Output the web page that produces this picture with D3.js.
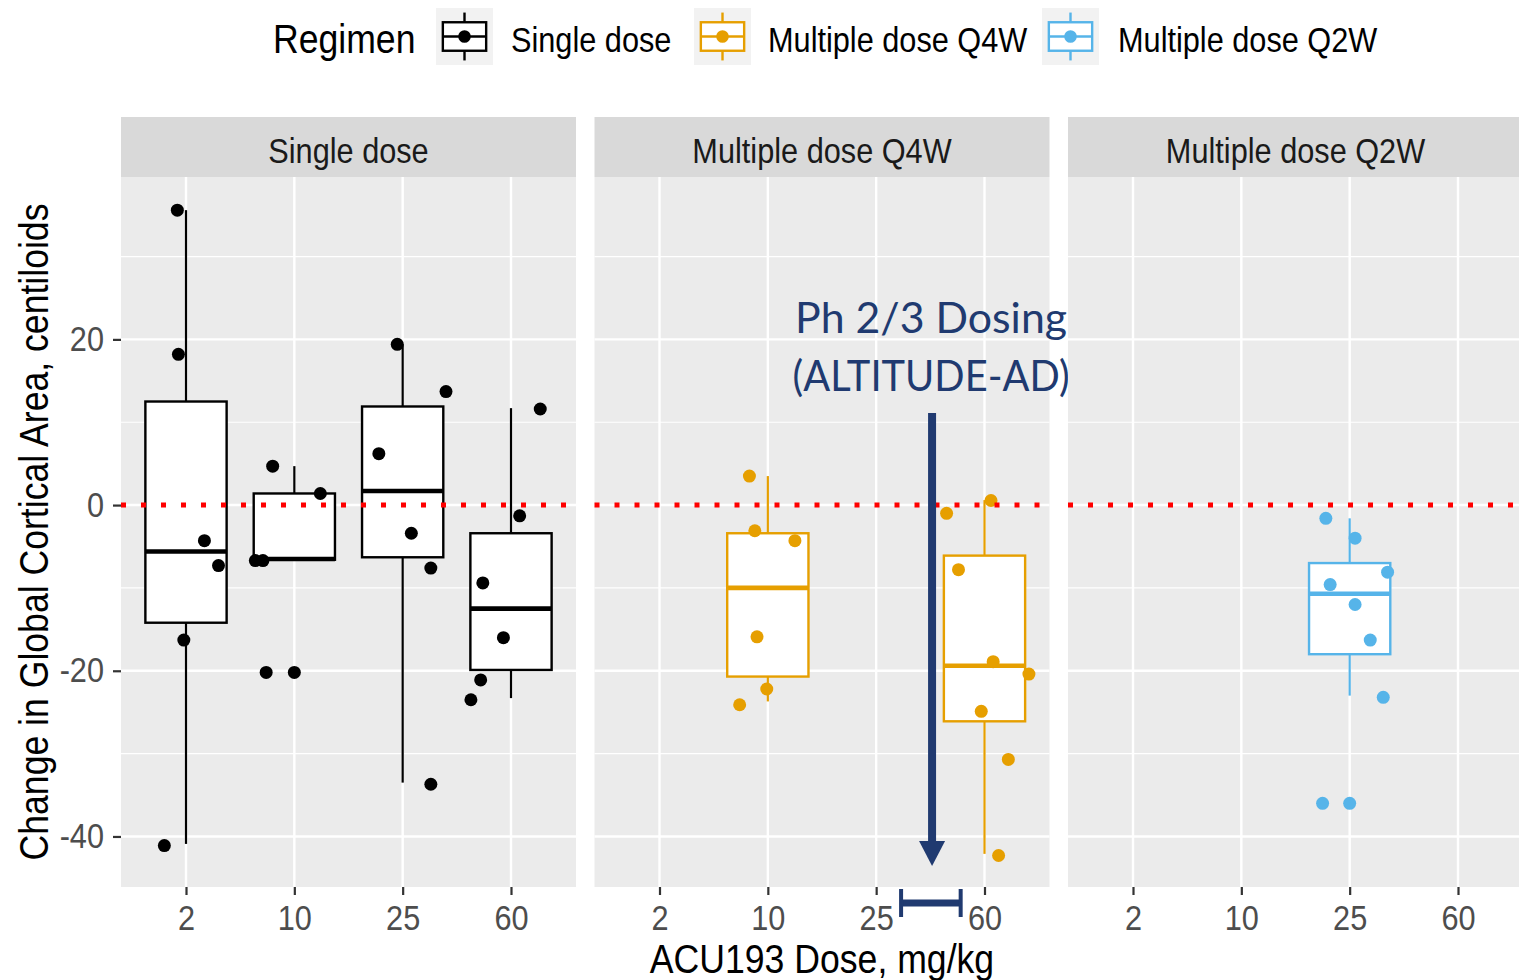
<!DOCTYPE html>
<html>
<head>
<meta charset="utf-8">
<script src="https://cdn.jsdelivr.net/npm/d3@7"></script>
<style>
  html, body { margin: 0; padding: 0; background: #ffffff; }
  svg { display: block; }
  /* narrow, tall lettering used throughout the figure */
  text.narrow { transform-box: fill-box; transform: scale(0.89, 1); }
  text.narrow.a-start { transform-origin: left center; }
  text.narrow.a-middle { transform-origin: center center; }
  text.narrow.a-end { transform-origin: right center; }
</style>
</head>
<body>
<svg id="chart" width="1519" height="980"></svg>
<script>
// Regimens (facets), colours and dose categories
const regimens = ["Single dose", "Multiple dose Q4W", "Multiple dose Q2W"];
const regimenColors = ["#000000", "#E69F00", "#56B4E9"];
const doseLabels = ["2", "10", "25", "60"];
const yTicks = [-40, -20, 0, 20];
const yMinorTicks = [-30, -10, 10, 30];

// Box statistics: [dose, lower whisker, Q1, median, Q3, upper whisker]
const singleDoseBoxes = [
  ["2", -40.9, -14.2, -5.6, 12.5, 35.6],
  ["10", -6.6, -6.6, -6.5, 1.4, 4.7],
  ["25", -33.5, -6.3, 1.7, 11.9, 19.4],
  ["60", -23.3, -19.9, -12.5, -3.4, 11.7]
];
const q4wBoxes = [
  ["10", -23.7, -20.7, -10.0, -3.4, 3.5],
  ["60", -42.1, -26.1, -19.4, -6.1, 0.6]
];
const q2wBoxes = [
  ["25", -23.0, -18.0, -10.7, -7.0, -1.6]
];

// Individual subjects: [dose, change in centiloids, horizontal jitter (fraction of a category step)]
const singleDosePoints = [
  ["2", 35.6, -0.08], ["2", 18.2, -0.07], ["2", -4.3, 0.17], ["2", -7.3, 0.30], ["2", -16.3, -0.02], ["2", -41.1, -0.20],
  ["10", 4.7, -0.20], ["10", 1.4, 0.24], ["10", -6.7, -0.36], ["10", -6.7, -0.29], ["10", -20.2, -0.26], ["10", -20.2, 0.0],
  ["25", 19.4, -0.05], ["25", 13.7, 0.40], ["25", 6.2, -0.22], ["25", -3.4, 0.08], ["25", -7.6, 0.26], ["25", -33.7, 0.26],
  ["60", 11.6, 0.27], ["60", -1.3, 0.08], ["60", -9.4, -0.26], ["60", -16.0, -0.07], ["60", -21.1, -0.28], ["60", -23.5, -0.37]
];
const q4wPoints = [
  ["10", 3.5, -0.17], ["10", -3.1, -0.12], ["10", -4.3, 0.25], ["10", -15.9, -0.10], ["10", -22.2, -0.01], ["10", -24.1, -0.26],
  ["60", 0.55, 0.06], ["60", -1.0, -0.35], ["60", -7.8, -0.24], ["60", -18.9, 0.08], ["60", -20.4, 0.41],
  ["60", -24.9, -0.03], ["60", -30.7, 0.22], ["60", -42.3, 0.13]
];
const q2wPoints = [
  ["25", -1.6, -0.22], ["25", -4.0, 0.05], ["25", -8.1, 0.35], ["25", -9.6, -0.18], ["25", -12.0, 0.05],
  ["25", -16.3, 0.19], ["25", -23.2, 0.31], ["25", -36.0, -0.25], ["25", -36.0, 0.0]
];

const boxesByPanel = [singleDoseBoxes, q4wBoxes, q2wBoxes];
const pointsByPanel = [singleDosePoints, q4wPoints, q2wPoints];

// Annotation text for the Phase 2/3 dose range
const annotationLines = ["Ph 2/3 Dosing", "(ALTITUDE-AD)"];

// ---- layout ----
const svg = d3.select("#chart");
const panelLeft = 121, panelWidth = 455, panelGap = 18.5;
const stripTop = 117, stripHeight = 60;
const plotTop = stripTop + stripHeight, plotBottom = 887;
const textFont = "'Liberation Sans', Arial, sans-serif";
const smallSize = 34.5, titleSize = 40;

const y = d3.scaleLinear().domain([-46.1, 39.6]).range([plotBottom, plotTop]);
const x = d3.scalePoint().domain(doseLabels).range([0, panelWidth]).padding(0.6);
const step = x.step();

regimens.forEach((name, i) => {
  const x0 = panelLeft + i * (panelWidth + panelGap);
  const color = regimenColors[i];
  const g = svg.append("g").attr("transform", `translate(${x0},0)`);

  // strip
  g.append("rect").attr("x", 0).attr("y", stripTop).attr("width", panelWidth).attr("height", stripHeight)
    .attr("fill", "#D9D9D9");
  g.append("text").attr("class", "narrow a-middle").attr("x", panelWidth / 2).attr("y", stripTop + 46)
    .attr("text-anchor", "middle").attr("font-family", textFont).attr("font-size", smallSize)
    .attr("fill", "#1A1A1A").text(name);

  // panel background + grid
  g.append("rect").attr("x", 0).attr("y", plotTop).attr("width", panelWidth).attr("height", plotBottom - plotTop)
    .attr("fill", "#EBEBEB");
  g.selectAll(".gminor").data(yMinorTicks).join("line")
    .attr("x1", 0).attr("x2", panelWidth).attr("y1", d => y(d)).attr("y2", d => y(d))
    .attr("stroke", "#fff").attr("stroke-width", 1.2);
  g.selectAll(".gmajor").data(yTicks).join("line")
    .attr("x1", 0).attr("x2", panelWidth).attr("y1", d => y(d)).attr("y2", d => y(d))
    .attr("stroke", "#fff").attr("stroke-width", 2.4);
  g.selectAll(".gx").data(doseLabels).join("line")
    .attr("x1", d => x(d)).attr("x2", d => x(d)).attr("y1", plotTop).attr("y2", plotBottom)
    .attr("stroke", "#fff").attr("stroke-width", 2.4);

  // x axis
  const xAxis = g.append("g").attr("transform", `translate(0,${plotBottom})`)
    .call(d3.axisBottom(x).tickSize(8).tickPadding(7));
  xAxis.select(".domain").remove();
  xAxis.selectAll(".tick line").attr("stroke", "#333").attr("stroke-width", 2.2);
  xAxis.selectAll(".tick text").attr("class", "narrow a-middle")
    .attr("font-family", textFont).attr("font-size", smallSize)
    .attr("fill", "#4D4D4D").attr("dy", "0.8em");

  // y axis on the first panel only
  if (i === 0) {
    const yAxis = g.append("g")
      .call(d3.axisLeft(y).tickValues(yTicks).tickFormat(d => String(d)).tickSize(8).tickPadding(9));
    yAxis.select(".domain").remove();
    yAxis.selectAll(".tick line").attr("stroke", "#333").attr("stroke-width", 2.2);
    yAxis.selectAll(".tick text").attr("class", "narrow a-end")
      .attr("font-family", textFont).attr("font-size", smallSize)
      .attr("fill", "#4D4D4D");
  }

  // boxplots
  const bw = step * 0.75;
  const boxes = g.selectAll(".box").data(boxesByPanel[i]).join("g");
  boxes.append("line")
    .attr("x1", d => x(d[0])).attr("x2", d => x(d[0]))
    .attr("y1", d => y(d[5])).attr("y2", d => y(d[4]))
    .attr("stroke", color).attr("stroke-width", 2.2);
  boxes.append("line")
    .attr("x1", d => x(d[0])).attr("x2", d => x(d[0]))
    .attr("y1", d => y(d[2])).attr("y2", d => y(d[1]))
    .attr("stroke", color).attr("stroke-width", 2.2);
  boxes.append("rect")
    .attr("x", d => x(d[0]) - bw / 2).attr("width", bw)
    .attr("y", d => y(d[4])).attr("height", d => y(d[2]) - y(d[4]))
    .attr("fill", "#fff").attr("stroke", color).attr("stroke-width", 2.4);
  boxes.append("line")
    .attr("x1", d => x(d[0]) - bw / 2).attr("x2", d => x(d[0]) + bw / 2)
    .attr("y1", d => y(d[3])).attr("y2", d => y(d[3]))
    .attr("stroke", color).attr("stroke-width", 4.6);

  // jittered subject points
  g.selectAll(".pt").data(pointsByPanel[i]).join("circle")
    .attr("cx", d => x(d[0]) + d[2] * step)
    .attr("cy", d => y(d[1]))
    .attr("r", 6.5)
    .attr("fill", color);

  // reference line at zero change
  g.append("line").attr("x1", 0).attr("x2", panelWidth).attr("y1", y(0)).attr("y2", y(0))
    .attr("stroke", "#FF0000").attr("stroke-width", 5).attr("stroke-dasharray", "5 15");

  // Phase 2/3 dosing annotation in the Q4W panel
  if (i === 1) {
    const navy = "#203A70";
    const ax = x("25") + 0.516 * step;
    g.append("line").attr("x1", ax).attr("x2", ax).attr("y1", 413).attr("y2", 843)
      .attr("stroke", navy).attr("stroke-width", 8);
    g.append("path")
      .attr("d", `M${ax - 13},841 L${ax + 13},841 L${ax},866 Z`).attr("fill", navy);
    const bx1 = x("25") + 0.23 * step, bx2 = x("25") + 0.78 * step;
    g.append("line").attr("x1", bx1).attr("x2", bx2).attr("y1", 903).attr("y2", 903)
      .attr("stroke", navy).attr("stroke-width", 7);
    [bx1, bx2].forEach(bx => g.append("line").attr("x1", bx).attr("x2", bx).attr("y1", 889).attr("y2", 917)
      .attr("stroke", navy).attr("stroke-width", 4));
    g.selectAll(".ann").data(annotationLines).join("text")
      .attr("x", ax - 1).attr("y", (d, k) => 333 + k * 58)
      .attr("text-anchor", "middle")
      .attr("font-family", "Lato, 'Open Sans', sans-serif")
      .attr("font-size", 42)
      .attr("fill", navy)
      .attr("textLength", (d, k) => k === 0 ? 272 : 277)
      .attr("lengthAdjust", "spacingAndGlyphs")
      .text(d => d);
  }
});

// axis titles
svg.append("text").attr("class", "narrow a-middle")
  .attr("x", panelLeft + (3 * panelWidth + 2 * panelGap) / 2).attr("y", 973)
  .attr("text-anchor", "middle").attr("font-family", textFont).attr("font-size", titleSize)
  .attr("fill", "#000").text("ACU193 Dose, mg/kg");
svg.append("g").attr("transform", `translate(48,${(plotTop + plotBottom) / 2}) rotate(-90)`)
  .append("text").attr("class", "narrow a-middle")
  .attr("text-anchor", "middle").attr("font-family", textFont).attr("font-size", titleSize)
  .attr("fill", "#000").text("Change in Global Cortical Area, centiloids");

// legend
const legend = svg.append("g");
legend.append("text").attr("class", "narrow a-start").attr("x", 273).attr("y", 53)
  .attr("font-family", textFont).attr("font-size", titleSize)
  .attr("fill", "#000").text("Regimen");
const keyX = [436, 694, 1042];
const labelX = [511, 768, 1118];
const keySize = 57, keyTop = 8;
regimens.forEach((name, i) => {
  const kx = keyX[i], c = regimenColors[i];
  const k = legend.append("g").attr("transform", `translate(${kx},${keyTop})`);
  k.append("rect").attr("width", keySize).attr("height", keySize).attr("fill", "#F2F2F2");
  const cx = keySize / 2;
  k.append("line").attr("x1", cx).attr("x2", cx).attr("y1", keySize * 0.08).attr("y2", keySize * 0.25)
    .attr("stroke", c).attr("stroke-width", 2.4);
  k.append("line").attr("x1", cx).attr("x2", cx).attr("y1", keySize * 0.75).attr("y2", keySize * 0.92)
    .attr("stroke", c).attr("stroke-width", 2.4);
  k.append("rect").attr("x", keySize * 0.12).attr("y", keySize * 0.25)
    .attr("width", keySize * 0.76).attr("height", keySize * 0.5)
    .attr("fill", "#fff").attr("stroke", c).attr("stroke-width", 2.4);
  k.append("line").attr("x1", keySize * 0.12).attr("x2", keySize * 0.88)
    .attr("y1", keySize / 2).attr("y2", keySize / 2).attr("stroke", c).attr("stroke-width", 2.4);
  k.append("circle").attr("cx", cx).attr("cy", keySize / 2).attr("r", 6.3).attr("fill", c);
  legend.append("text").attr("class", "narrow a-start").attr("x", labelX[i]).attr("y", 52)
    .attr("font-family", textFont)
    .attr("font-size", smallSize).attr("fill", "#000").text(name);
});
</script>
</body>
</html>
